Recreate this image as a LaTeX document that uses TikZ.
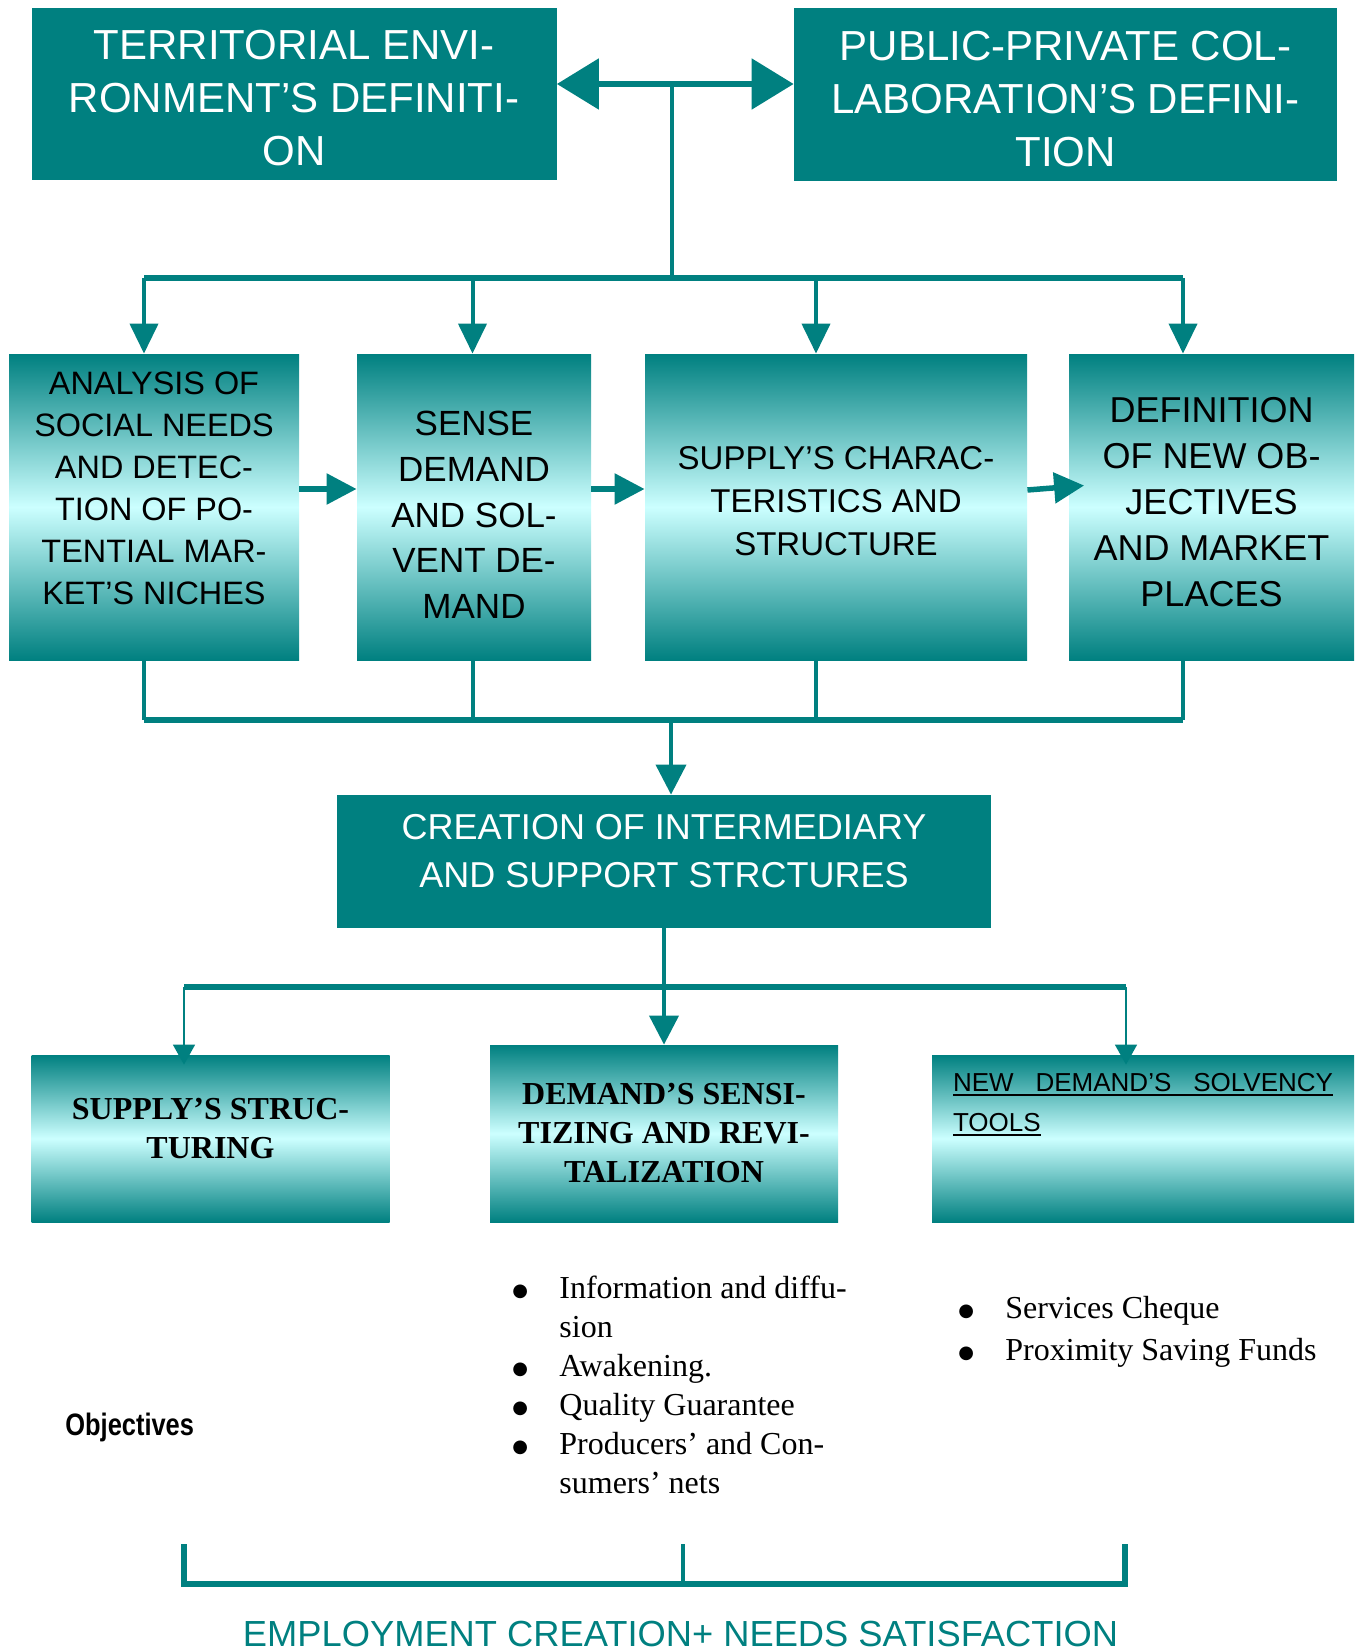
\documentclass[tikz,border=0pt]{standalone}
\usepackage{fontspec}
\setmainfont{Liberation Sans}
\newfontfamily\timesfont{Liberation Serif}
\newfontfamily\narrowfont[FakeStretch=0.82]{Liberation Sans}
\newfontfamily\dotfont{DejaVu Sans}
\usetikzlibrary{arrows.meta, positioning}

\definecolor{flowteal}{RGB}{0,128,128}
\definecolor{icecyan}{RGB}{204,255,255}

\newcommand{\bulletitem}{\makebox[23.5pt][l]{\raisebox{1.3pt}{\dotfont\fontsize{9}{9}\selectfont ●}}}
\newcommand{\bulletgap}{\hspace*{23.5pt}}
\newcommand{\lineunder}[1]{\leavevmode\setbox0\hbox{#1}\rlap{\rule[-2.6pt]{\wd0}{1.3pt}}\box0}
% invisible struts that move a block of lines inside its box
\newcommand{\padbelow}[1]{\rule[-#1]{0pt}{#1}}
\newcommand{\padabove}[1]{\rule{0pt}{#1}}

\tikzset{
    darkbox/.style={fill=flowteal, text=white, align=center, inner sep=0pt,
        font=\fontsize{21}{26.5}\selectfont},
    fadebox/.style={top color=flowteal, bottom color=flowteal, middle color=icecyan,
        align=center, inner sep=0pt},
    bulletlist/.style={align=left, inner sep=0pt, anchor=north west},
    wide/.style={flowteal, line width=2.75pt},
    link/.style={flowteal, line width=2pt},
    thinlink/.style={flowteal, line width=0.8pt},
}

\begin{document}
\begin{tikzpicture}[x=0.5pt, y=-0.5pt]
    \useasboundingbox (0,0) rectangle (1362,1647);

    % definitions on top
    \node[darkbox, minimum width=262.5pt, minimum height=86pt] (terr) at (294,94.5)
        {\padabove{18.6pt}TERRITORIAL ENVI-\\RONMENT’S DEFINITI-\\ON};
    \node[darkbox, minimum width=271.5pt, minimum height=86.5pt] (pub) at (1065.5,95)
        {\padabove{19pt}PUBLIC-PRIVATE COL-\\LABORATION’S DEFINI-\\TION};

    \coordinate (hub) at (672,84);
    \coordinate (fork) at (672,278);
    \draw [wide, {Triangle[length=21pt,width=25pt]}-{Triangle[length=21pt,width=25pt]}] (terr.east |- hub) -- (pub.west |- hub);
    \draw [link] (hub) -- (fork);

    % analysis boxes
    \node[fadebox, minimum width=145pt, minimum height=153pt, font=\fontsize{16.2}{21}\selectfont] (analysis) at (154,507)
        {ANALYSIS OF\\SOCIAL NEEDS\\AND DETEC-\\TION OF PO-\\TENTIAL MAR-\\KET’S NICHES\padbelow{18.4pt}};
    \node[fadebox, minimum width=117pt, minimum height=153pt, font=\fontsize{17.5}{22.8}\selectfont] (sense) at (474,507)
        {\padabove{20pt}SENSE\\DEMAND\\AND SOL-\\VENT DE-\\MAND};
    \node[fadebox, minimum width=191pt, minimum height=153pt, font=\fontsize{16.5}{21.5}\selectfont] (supply) at (836,507)
        {SUPPLY’S CHARAC-\\TERISTICS AND\\STRUCTURE\padbelow{6.3pt}};
    \node[fadebox, minimum width=142.5pt, minimum height=153pt, font=\fontsize{18}{23}\selectfont] (goals) at (1211.5,507)
        {DEFINITION\\OF NEW OB-\\JECTIVES\\AND MARKET\\PLACES\padbelow{4.7pt}};

    \foreach \xx/\nn in {144/analysis, 472.5/sense, 816/supply, 1183/goals}{
        \coordinate (in-\nn) at (\xx,278);
        \coordinate (out-\nn) at (\xx,720);
        \draw [link, -{Triangle[length=15pt,width=14pt]}] (in-\nn) -- (in-\nn |- \nn.north);
        \draw [link] (\nn.south -| out-\nn) -- (out-\nn);
    }
    \draw [wide] (in-analysis) -- (in-goals);
    \draw [wide] (out-analysis) -- (out-goals);

    \draw [wide, -{Triangle[length=15pt,width=15pt]}] ([yshift=9pt]analysis.east) -- ([yshift=9pt]sense.west);
    \draw [wide, -{Triangle[length=15pt,width=15pt]}] ([yshift=9pt]sense.east) -- ([yshift=9pt]supply.west);
    \draw [wide, -{Triangle[length=15pt,width=15pt]}] ([yshift=8.5pt]supply.east) -- ([xshift=7.75pt,yshift=10.75pt]goals.west);

    % intermediary structures
    \coordinate (merge) at (671,720);
    \node[darkbox, minimum width=327pt, minimum height=66.5pt, font=\fontsize{18}{24}\selectfont] (creation) at (664,861.5)
        {CREATION OF INTERMEDIARY\\AND SUPPORT STRCTURES\padbelow{10.5pt}};
    \draw [link, -{Triangle[length=15pt,width=15pt]}] (merge) -- (merge |- creation.north);

    % lines of action
    \node[fadebox, minimum width=179pt, minimum height=83.5pt, font=\timesfont\bfseries\fontsize{16}{19.5}\selectfont] (structuring) at (210.5,1138.5)
        {SUPPLY’S STRUC-\\TURING\padbelow{10.5pt}};
    \node[fadebox, minimum width=174pt, minimum height=88.5pt, font=\timesfont\bfseries\fontsize{16}{19.5}\selectfont] (sensitizing) at (664,1133.5)
        {DEMAND’S SENSI-\\TIZING AND REVI-\\TALIZATION};
    \node[fadebox, minimum width=211pt, minimum height=83.5pt, font=\fontsize{13}{20}\selectfont] (tools) at (1143,1138.5)
        {\parbox[c][83.5pt][t]{190pt}{\vspace*{9pt}\lineunder{\makebox[190pt][s]{NEW DEMAND’S SOLVENCY}}\par\lineunder{TOOLS}}};

    \coordinate (splitL) at (184,987);
    \coordinate (splitR) at (1126,987);
    \draw [link, -{Triangle[length=14.5pt,width=14.5pt]}] (creation.south) -- (sensitizing.north);
    \draw [wide] (splitL) -- (splitR);
    \draw [thinlink, shorten >=-5pt, -{Triangle[length=10pt,width=11pt]}] (splitL) -- (structuring.north -| splitL);
    \draw [thinlink, shorten >=-5pt, -{Triangle[length=10pt,width=11pt]}] (splitR) -- (tools.north -| splitR);

    % lists
    \node[bulletlist, font=\timesfont\fontsize{16}{19.5}\selectfont] (senslist) at (512,1276)
        {\bulletitem Information and diffu-\\\bulletgap sion\\\bulletitem Awakening.\\\bulletitem Quality Guarantee\\\bulletitem Producers’ and Con-\\\bulletgap sumers’ nets};
    \node[bulletlist, font=\timesfont\fontsize{16}{21}\selectfont] (toollist) at (958,1296)
        {\bulletitem Services Cheque\\\bulletitem Proximity Saving Funds};

    \node[anchor=west, inner sep=0pt, font=\narrowfont\bfseries\fontsize{15.5}{18}\selectfont] (objectives) at (65,1427) {Objectives};

    % outcome bracket
    \coordinate (goalL) at (184,1544);
    \coordinate (goalM) at (682.5,1544);
    \coordinate (goalR) at (1125,1544);
    \coordinate (goalBase) at (682.5,1584);
    \draw [wide] (goalL) -- (goalL |- goalBase) -| (goalR);
    \draw [link] (goalM) -- (goalBase);

    \node[anchor=base, inner sep=0pt, text=flowteal, font=\fontsize{18.15}{22}\selectfont] (outcome) at (680.5,1646)
        {EMPLOYMENT CREATION+ NEEDS SATISFACTION};
\end{tikzpicture}
\end{document}
